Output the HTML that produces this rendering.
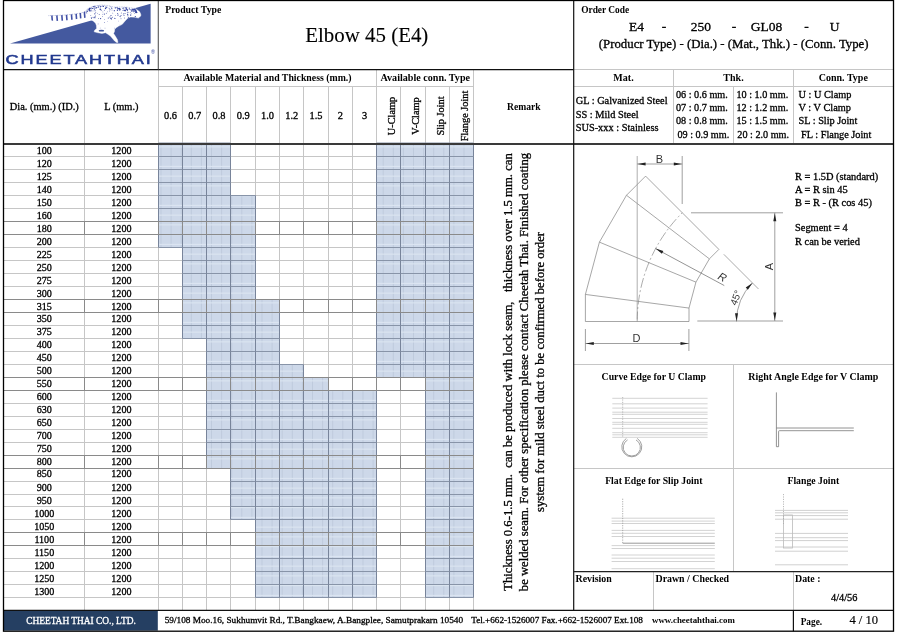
<!DOCTYPE html>
<html><head><meta charset="utf-8"><title>Elbow 45 (E4)</title>
<style>html,body{margin:0;padding:0;background:#fff;width:900px;height:632px;overflow:hidden}</style>
</head><body>
<svg width="900" height="632" viewBox="0 0 900 632" style="position:absolute;left:0;top:0"><rect width="900" height="632" fill="#fff"/><rect x="158.5" y="143.0" width="72.0" height="13.5" fill="#cdd8e9"/><rect x="376.5" y="143.0" width="97.0" height="13.5" fill="#cdd8e9"/><rect x="158.5" y="156.5" width="72.0" height="13.0" fill="#cdd8e9"/><rect x="376.5" y="156.5" width="97.0" height="13.0" fill="#cdd8e9"/><rect x="158.5" y="169.5" width="72.0" height="13.0" fill="#cdd8e9"/><rect x="376.5" y="169.5" width="97.0" height="13.0" fill="#cdd8e9"/><rect x="158.5" y="182.5" width="72.0" height="13.0" fill="#cdd8e9"/><rect x="376.5" y="182.5" width="97.0" height="13.0" fill="#cdd8e9"/><rect x="158.5" y="195.5" width="97.0" height="13.0" fill="#cdd8e9"/><rect x="376.5" y="195.5" width="97.0" height="13.0" fill="#cdd8e9"/><rect x="158.5" y="208.5" width="97.0" height="13.0" fill="#cdd8e9"/><rect x="376.5" y="208.5" width="97.0" height="13.0" fill="#cdd8e9"/><rect x="158.5" y="221.5" width="97.0" height="13.0" fill="#cdd8e9"/><rect x="376.5" y="221.5" width="97.0" height="13.0" fill="#cdd8e9"/><rect x="158.5" y="234.5" width="97.0" height="13.0" fill="#cdd8e9"/><rect x="376.5" y="234.5" width="97.0" height="13.0" fill="#cdd8e9"/><rect x="182.5" y="247.5" width="73.0" height="13.0" fill="#cdd8e9"/><rect x="376.5" y="247.5" width="97.0" height="13.0" fill="#cdd8e9"/><rect x="182.5" y="260.5" width="73.0" height="13.0" fill="#cdd8e9"/><rect x="376.5" y="260.5" width="97.0" height="13.0" fill="#cdd8e9"/><rect x="182.5" y="273.5" width="73.0" height="13.0" fill="#cdd8e9"/><rect x="376.5" y="273.5" width="97.0" height="13.0" fill="#cdd8e9"/><rect x="182.5" y="286.5" width="73.0" height="13.0" fill="#cdd8e9"/><rect x="376.5" y="286.5" width="97.0" height="13.0" fill="#cdd8e9"/><rect x="182.5" y="299.5" width="97.0" height="13.0" fill="#cdd8e9"/><rect x="376.5" y="299.5" width="97.0" height="13.0" fill="#cdd8e9"/><rect x="182.5" y="312.5" width="97.0" height="13.0" fill="#cdd8e9"/><rect x="376.5" y="312.5" width="97.0" height="13.0" fill="#cdd8e9"/><rect x="182.5" y="325.5" width="97.0" height="13.0" fill="#cdd8e9"/><rect x="376.5" y="325.5" width="97.0" height="13.0" fill="#cdd8e9"/><rect x="206.5" y="338.5" width="73.0" height="13.0" fill="#cdd8e9"/><rect x="376.5" y="338.5" width="97.0" height="13.0" fill="#cdd8e9"/><rect x="206.5" y="351.5" width="73.0" height="13.0" fill="#cdd8e9"/><rect x="376.5" y="351.5" width="97.0" height="13.0" fill="#cdd8e9"/><rect x="206.5" y="364.5" width="97.0" height="13.0" fill="#cdd8e9"/><rect x="376.5" y="364.5" width="97.0" height="13.0" fill="#cdd8e9"/><rect x="206.5" y="377.5" width="122.0" height="13.0" fill="#cdd8e9"/><rect x="425.5" y="377.5" width="48.0" height="13.0" fill="#cdd8e9"/><rect x="206.5" y="390.5" width="170.0" height="13.0" fill="#cdd8e9"/><rect x="425.5" y="390.5" width="48.0" height="13.0" fill="#cdd8e9"/><rect x="206.5" y="403.5" width="170.0" height="13.0" fill="#cdd8e9"/><rect x="425.5" y="403.5" width="48.0" height="13.0" fill="#cdd8e9"/><rect x="206.5" y="416.5" width="170.0" height="13.0" fill="#cdd8e9"/><rect x="425.5" y="416.5" width="48.0" height="13.0" fill="#cdd8e9"/><rect x="206.5" y="429.5" width="170.0" height="13.0" fill="#cdd8e9"/><rect x="425.5" y="429.5" width="48.0" height="13.0" fill="#cdd8e9"/><rect x="206.5" y="442.5" width="170.0" height="13.0" fill="#cdd8e9"/><rect x="425.5" y="442.5" width="48.0" height="13.0" fill="#cdd8e9"/><rect x="206.5" y="455.5" width="170.0" height="13.0" fill="#cdd8e9"/><rect x="425.5" y="455.5" width="48.0" height="13.0" fill="#cdd8e9"/><rect x="230.5" y="468.5" width="146.0" height="13.0" fill="#cdd8e9"/><rect x="425.5" y="468.5" width="48.0" height="13.0" fill="#cdd8e9"/><rect x="230.5" y="481.5" width="146.0" height="13.0" fill="#cdd8e9"/><rect x="425.5" y="481.5" width="48.0" height="13.0" fill="#cdd8e9"/><rect x="230.5" y="494.5" width="146.0" height="12.0" fill="#cdd8e9"/><rect x="425.5" y="494.5" width="48.0" height="12.0" fill="#cdd8e9"/><rect x="230.5" y="506.5" width="146.0" height="13.0" fill="#cdd8e9"/><rect x="425.5" y="506.5" width="48.0" height="13.0" fill="#cdd8e9"/><rect x="255.5" y="519.5" width="121.0" height="13.0" fill="#cdd8e9"/><rect x="425.5" y="519.5" width="48.0" height="13.0" fill="#cdd8e9"/><rect x="255.5" y="532.5" width="121.0" height="13.0" fill="#cdd8e9"/><rect x="425.5" y="532.5" width="48.0" height="13.0" fill="#cdd8e9"/><rect x="255.5" y="545.5" width="121.0" height="13.0" fill="#cdd8e9"/><rect x="425.5" y="545.5" width="48.0" height="13.0" fill="#cdd8e9"/><rect x="255.5" y="558.5" width="121.0" height="13.0" fill="#cdd8e9"/><rect x="425.5" y="558.5" width="48.0" height="13.0" fill="#cdd8e9"/><rect x="255.5" y="571.5" width="121.0" height="13.0" fill="#cdd8e9"/><rect x="425.5" y="571.5" width="48.0" height="13.0" fill="#cdd8e9"/><rect x="255.5" y="584.5" width="121.0" height="13.0" fill="#cdd8e9"/><rect x="425.5" y="584.5" width="48.0" height="13.0" fill="#cdd8e9"/><clipPath id="blueclip"><rect x="158.5" y="143.0" width="72.0" height="13.5"/><rect x="376.5" y="143.0" width="97.0" height="13.5"/><rect x="158.5" y="156.5" width="72.0" height="13.0"/><rect x="376.5" y="156.5" width="97.0" height="13.0"/><rect x="158.5" y="169.5" width="72.0" height="13.0"/><rect x="376.5" y="169.5" width="97.0" height="13.0"/><rect x="158.5" y="182.5" width="72.0" height="13.0"/><rect x="376.5" y="182.5" width="97.0" height="13.0"/><rect x="158.5" y="195.5" width="97.0" height="13.0"/><rect x="376.5" y="195.5" width="97.0" height="13.0"/><rect x="158.5" y="208.5" width="97.0" height="13.0"/><rect x="376.5" y="208.5" width="97.0" height="13.0"/><rect x="158.5" y="221.5" width="97.0" height="13.0"/><rect x="376.5" y="221.5" width="97.0" height="13.0"/><rect x="158.5" y="234.5" width="97.0" height="13.0"/><rect x="376.5" y="234.5" width="97.0" height="13.0"/><rect x="182.5" y="247.5" width="73.0" height="13.0"/><rect x="376.5" y="247.5" width="97.0" height="13.0"/><rect x="182.5" y="260.5" width="73.0" height="13.0"/><rect x="376.5" y="260.5" width="97.0" height="13.0"/><rect x="182.5" y="273.5" width="73.0" height="13.0"/><rect x="376.5" y="273.5" width="97.0" height="13.0"/><rect x="182.5" y="286.5" width="73.0" height="13.0"/><rect x="376.5" y="286.5" width="97.0" height="13.0"/><rect x="182.5" y="299.5" width="97.0" height="13.0"/><rect x="376.5" y="299.5" width="97.0" height="13.0"/><rect x="182.5" y="312.5" width="97.0" height="13.0"/><rect x="376.5" y="312.5" width="97.0" height="13.0"/><rect x="182.5" y="325.5" width="97.0" height="13.0"/><rect x="376.5" y="325.5" width="97.0" height="13.0"/><rect x="206.5" y="338.5" width="73.0" height="13.0"/><rect x="376.5" y="338.5" width="97.0" height="13.0"/><rect x="206.5" y="351.5" width="73.0" height="13.0"/><rect x="376.5" y="351.5" width="97.0" height="13.0"/><rect x="206.5" y="364.5" width="97.0" height="13.0"/><rect x="376.5" y="364.5" width="97.0" height="13.0"/><rect x="206.5" y="377.5" width="122.0" height="13.0"/><rect x="425.5" y="377.5" width="48.0" height="13.0"/><rect x="206.5" y="390.5" width="170.0" height="13.0"/><rect x="425.5" y="390.5" width="48.0" height="13.0"/><rect x="206.5" y="403.5" width="170.0" height="13.0"/><rect x="425.5" y="403.5" width="48.0" height="13.0"/><rect x="206.5" y="416.5" width="170.0" height="13.0"/><rect x="425.5" y="416.5" width="48.0" height="13.0"/><rect x="206.5" y="429.5" width="170.0" height="13.0"/><rect x="425.5" y="429.5" width="48.0" height="13.0"/><rect x="206.5" y="442.5" width="170.0" height="13.0"/><rect x="425.5" y="442.5" width="48.0" height="13.0"/><rect x="206.5" y="455.5" width="170.0" height="13.0"/><rect x="425.5" y="455.5" width="48.0" height="13.0"/><rect x="230.5" y="468.5" width="146.0" height="13.0"/><rect x="425.5" y="468.5" width="48.0" height="13.0"/><rect x="230.5" y="481.5" width="146.0" height="13.0"/><rect x="425.5" y="481.5" width="48.0" height="13.0"/><rect x="230.5" y="494.5" width="146.0" height="12.0"/><rect x="425.5" y="494.5" width="48.0" height="12.0"/><rect x="230.5" y="506.5" width="146.0" height="13.0"/><rect x="425.5" y="506.5" width="48.0" height="13.0"/><rect x="255.5" y="519.5" width="121.0" height="13.0"/><rect x="425.5" y="519.5" width="48.0" height="13.0"/><rect x="255.5" y="532.5" width="121.0" height="13.0"/><rect x="425.5" y="532.5" width="48.0" height="13.0"/><rect x="255.5" y="545.5" width="121.0" height="13.0"/><rect x="425.5" y="545.5" width="48.0" height="13.0"/><rect x="255.5" y="558.5" width="121.0" height="13.0"/><rect x="425.5" y="558.5" width="48.0" height="13.0"/><rect x="255.5" y="571.5" width="121.0" height="13.0"/><rect x="425.5" y="571.5" width="48.0" height="13.0"/><rect x="255.5" y="584.5" width="121.0" height="13.0"/><rect x="425.5" y="584.5" width="48.0" height="13.0"/></clipPath><g clip-path="url(#blueclip)"><path d="M150.9 143V598M161.0 143V598M171.1 143V598M181.2 143V598M191.3 143V598M201.4 143V598M211.5 143V598M221.6 143V598M231.7 143V598M241.8 143V598M251.9 143V598M262.0 143V598M272.1 143V598M282.2 143V598M292.3 143V598M302.4 143V598M312.5 143V598M322.6 143V598M332.7 143V598M342.8 143V598M352.9 143V598M363.0 143V598M373.1 143V598M383.2 143V598M393.3 143V598M403.4 143V598M413.5 143V598M423.6 143V598M433.7 143V598M443.8 143V598M453.9 143V598M464.0 143V598" stroke="#bfcbdd" stroke-width="1" fill="none"/><path d="M158 137.15H474M158 146.90H474M158 156.65H474M158 166.40H474M158 176.15H474M158 185.90H474M158 195.65H474M158 205.40H474M158 215.15H474M158 224.90H474M158 234.65H474M158 244.40H474M158 254.15H474M158 263.90H474M158 273.65H474M158 283.40H474M158 293.15H474M158 302.90H474M158 312.65H474M158 322.40H474M158 332.15H474M158 341.90H474M158 351.65H474M158 361.40H474M158 371.15H474M158 380.90H474M158 390.65H474M158 400.40H474M158 410.15H474M158 419.90H474M158 429.65H474M158 439.40H474M158 449.15H474M158 458.90H474M158 468.65H474M158 478.40H474M158 488.15H474M158 497.90H474M158 507.65H474M158 517.40H474M158 527.15H474M158 536.90H474M158 546.65H474M158 556.40H474M158 566.15H474M158 575.90H474M158 585.65H474M158 595.40H474" stroke="#dde6f2" stroke-width="1" fill="none"/></g><path d="M3.5 156.5H473.5M3.5 169.5H473.5M3.5 182.5H473.5M3.5 195.5H473.5M3.5 208.5H473.5M3.5 221.5H473.5M3.5 234.5H473.5M3.5 247.5H473.5M3.5 260.5H473.5M3.5 273.5H473.5M3.5 286.5H473.5M3.5 299.5H473.5M3.5 312.5H473.5M3.5 325.5H473.5M3.5 338.5H473.5M3.5 351.5H473.5M3.5 364.5H473.5M3.5 377.5H473.5M3.5 390.5H473.5M3.5 403.5H473.5M3.5 416.5H473.5M3.5 429.5H473.5M3.5 442.5H473.5M3.5 455.5H473.5M3.5 468.5H473.5M3.5 481.5H473.5M3.5 494.5H473.5M3.5 506.5H473.5M3.5 519.5H473.5M3.5 532.5H473.5M3.5 545.5H473.5M3.5 558.5H473.5M3.5 571.5H473.5M3.5 584.5H473.5M3.5 597.5H473.5M84.5 69.6V610.4M158.5 69.6V610.4M182.5 86.4V610.4M206.5 86.4V610.4M230.5 86.4V610.4M255.5 86.4V610.4M279.5 86.4V610.4M303.5 86.4V610.4M328.5 86.4V610.4M352.5 86.4V610.4M376.5 69.6V610.4M400.5 86.4V610.4M425.5 86.4V610.4M449.5 86.4V610.4M473.5 69.6V610.4M158.5 86.5H473.5M573.7 69.5H893.5M573.7 86.5H893.5M673.5 69.6V143M733.5 86.5V143M793.5 69.6V143M573.7 364.5H893.5M573.7 468.5H893.5M733.5 364.5V571.7M653.5 571.7V610.4M793.5 571.7V610.4" stroke="#c6c6c6" stroke-width="1" fill="none"/><path d="M158.5 143.0H230.5M158.5 156.5H230.5M376.5 143.0H473.5M376.5 156.5H473.5M158.5 156.5H230.5M158.5 169.5H230.5M376.5 156.5H473.5M376.5 169.5H473.5M158.5 169.5H230.5M158.5 182.5H230.5M376.5 169.5H473.5M376.5 182.5H473.5M158.5 182.5H230.5M158.5 195.5H230.5M376.5 182.5H473.5M376.5 195.5H473.5M158.5 195.5H255.5M158.5 208.5H255.5M376.5 195.5H473.5M376.5 208.5H473.5M158.5 208.5H255.5M158.5 221.5H255.5M376.5 208.5H473.5M376.5 221.5H473.5M158.5 221.5H255.5M158.5 234.5H255.5M376.5 221.5H473.5M376.5 234.5H473.5M158.5 234.5H255.5M158.5 247.5H255.5M376.5 234.5H473.5M376.5 247.5H473.5M182.5 247.5H255.5M182.5 260.5H255.5M376.5 247.5H473.5M376.5 260.5H473.5M182.5 260.5H255.5M182.5 273.5H255.5M376.5 260.5H473.5M376.5 273.5H473.5M182.5 273.5H255.5M182.5 286.5H255.5M376.5 273.5H473.5M376.5 286.5H473.5M182.5 286.5H255.5M182.5 299.5H255.5M376.5 286.5H473.5M376.5 299.5H473.5M182.5 299.5H279.5M182.5 312.5H279.5M376.5 299.5H473.5M376.5 312.5H473.5M182.5 312.5H279.5M182.5 325.5H279.5M376.5 312.5H473.5M376.5 325.5H473.5M182.5 325.5H279.5M182.5 338.5H279.5M376.5 325.5H473.5M376.5 338.5H473.5M206.5 338.5H279.5M206.5 351.5H279.5M376.5 338.5H473.5M376.5 351.5H473.5M206.5 351.5H279.5M206.5 364.5H279.5M376.5 351.5H473.5M376.5 364.5H473.5M206.5 364.5H303.5M206.5 377.5H303.5M376.5 364.5H473.5M376.5 377.5H473.5M206.5 377.5H328.5M206.5 390.5H328.5M425.5 377.5H473.5M425.5 390.5H473.5M206.5 390.5H376.5M206.5 403.5H376.5M425.5 390.5H473.5M425.5 403.5H473.5M206.5 403.5H376.5M206.5 416.5H376.5M425.5 403.5H473.5M425.5 416.5H473.5M206.5 416.5H376.5M206.5 429.5H376.5M425.5 416.5H473.5M425.5 429.5H473.5M206.5 429.5H376.5M206.5 442.5H376.5M425.5 429.5H473.5M425.5 442.5H473.5M206.5 442.5H376.5M206.5 455.5H376.5M425.5 442.5H473.5M425.5 455.5H473.5M206.5 455.5H376.5M206.5 468.5H376.5M425.5 455.5H473.5M425.5 468.5H473.5M230.5 468.5H376.5M230.5 481.5H376.5M425.5 468.5H473.5M425.5 481.5H473.5M230.5 481.5H376.5M230.5 494.5H376.5M425.5 481.5H473.5M425.5 494.5H473.5M230.5 494.5H376.5M230.5 506.5H376.5M425.5 494.5H473.5M425.5 506.5H473.5M230.5 506.5H376.5M230.5 519.5H376.5M425.5 506.5H473.5M425.5 519.5H473.5M255.5 519.5H376.5M255.5 532.5H376.5M425.5 519.5H473.5M425.5 532.5H473.5M255.5 532.5H376.5M255.5 545.5H376.5M425.5 532.5H473.5M425.5 545.5H473.5M255.5 545.5H376.5M255.5 558.5H376.5M425.5 545.5H473.5M425.5 558.5H473.5M255.5 558.5H376.5M255.5 571.5H376.5M425.5 558.5H473.5M425.5 571.5H473.5M255.5 571.5H376.5M255.5 584.5H376.5M425.5 571.5H473.5M425.5 584.5H473.5M255.5 584.5H376.5M255.5 597.5H376.5M425.5 584.5H473.5M425.5 597.5H473.5" stroke="#8894a8" stroke-width="1" fill="none"/><path d="M158.5 143.0V156.5M182.5 143.0V156.5M206.5 143.0V156.5M230.5 143.0V156.5M376.5 143.0V156.5M400.5 143.0V156.5M425.5 143.0V156.5M449.5 143.0V156.5M473.5 143.0V156.5M158.5 156.5V169.5M182.5 156.5V169.5M206.5 156.5V169.5M230.5 156.5V169.5M376.5 156.5V169.5M400.5 156.5V169.5M425.5 156.5V169.5M449.5 156.5V169.5M473.5 156.5V169.5M158.5 169.5V182.5M182.5 169.5V182.5M206.5 169.5V182.5M230.5 169.5V182.5M376.5 169.5V182.5M400.5 169.5V182.5M425.5 169.5V182.5M449.5 169.5V182.5M473.5 169.5V182.5M158.5 182.5V195.5M182.5 182.5V195.5M206.5 182.5V195.5M230.5 182.5V195.5M376.5 182.5V195.5M400.5 182.5V195.5M425.5 182.5V195.5M449.5 182.5V195.5M473.5 182.5V195.5M158.5 195.5V208.5M182.5 195.5V208.5M206.5 195.5V208.5M230.5 195.5V208.5M255.5 195.5V208.5M376.5 195.5V208.5M400.5 195.5V208.5M425.5 195.5V208.5M449.5 195.5V208.5M473.5 195.5V208.5M158.5 208.5V221.5M182.5 208.5V221.5M206.5 208.5V221.5M230.5 208.5V221.5M255.5 208.5V221.5M376.5 208.5V221.5M400.5 208.5V221.5M425.5 208.5V221.5M449.5 208.5V221.5M473.5 208.5V221.5M158.5 221.5V234.5M182.5 221.5V234.5M206.5 221.5V234.5M230.5 221.5V234.5M255.5 221.5V234.5M376.5 221.5V234.5M400.5 221.5V234.5M425.5 221.5V234.5M449.5 221.5V234.5M473.5 221.5V234.5M158.5 234.5V247.5M182.5 234.5V247.5M206.5 234.5V247.5M230.5 234.5V247.5M255.5 234.5V247.5M376.5 234.5V247.5M400.5 234.5V247.5M425.5 234.5V247.5M449.5 234.5V247.5M473.5 234.5V247.5M182.5 247.5V260.5M206.5 247.5V260.5M230.5 247.5V260.5M255.5 247.5V260.5M376.5 247.5V260.5M400.5 247.5V260.5M425.5 247.5V260.5M449.5 247.5V260.5M473.5 247.5V260.5M182.5 260.5V273.5M206.5 260.5V273.5M230.5 260.5V273.5M255.5 260.5V273.5M376.5 260.5V273.5M400.5 260.5V273.5M425.5 260.5V273.5M449.5 260.5V273.5M473.5 260.5V273.5M182.5 273.5V286.5M206.5 273.5V286.5M230.5 273.5V286.5M255.5 273.5V286.5M376.5 273.5V286.5M400.5 273.5V286.5M425.5 273.5V286.5M449.5 273.5V286.5M473.5 273.5V286.5M182.5 286.5V299.5M206.5 286.5V299.5M230.5 286.5V299.5M255.5 286.5V299.5M376.5 286.5V299.5M400.5 286.5V299.5M425.5 286.5V299.5M449.5 286.5V299.5M473.5 286.5V299.5M182.5 299.5V312.5M206.5 299.5V312.5M230.5 299.5V312.5M255.5 299.5V312.5M279.5 299.5V312.5M376.5 299.5V312.5M400.5 299.5V312.5M425.5 299.5V312.5M449.5 299.5V312.5M473.5 299.5V312.5M182.5 312.5V325.5M206.5 312.5V325.5M230.5 312.5V325.5M255.5 312.5V325.5M279.5 312.5V325.5M376.5 312.5V325.5M400.5 312.5V325.5M425.5 312.5V325.5M449.5 312.5V325.5M473.5 312.5V325.5M182.5 325.5V338.5M206.5 325.5V338.5M230.5 325.5V338.5M255.5 325.5V338.5M279.5 325.5V338.5M376.5 325.5V338.5M400.5 325.5V338.5M425.5 325.5V338.5M449.5 325.5V338.5M473.5 325.5V338.5M206.5 338.5V351.5M230.5 338.5V351.5M255.5 338.5V351.5M279.5 338.5V351.5M376.5 338.5V351.5M400.5 338.5V351.5M425.5 338.5V351.5M449.5 338.5V351.5M473.5 338.5V351.5M206.5 351.5V364.5M230.5 351.5V364.5M255.5 351.5V364.5M279.5 351.5V364.5M376.5 351.5V364.5M400.5 351.5V364.5M425.5 351.5V364.5M449.5 351.5V364.5M473.5 351.5V364.5M206.5 364.5V377.5M230.5 364.5V377.5M255.5 364.5V377.5M279.5 364.5V377.5M303.5 364.5V377.5M376.5 364.5V377.5M400.5 364.5V377.5M425.5 364.5V377.5M449.5 364.5V377.5M473.5 364.5V377.5M206.5 377.5V390.5M230.5 377.5V390.5M255.5 377.5V390.5M279.5 377.5V390.5M303.5 377.5V390.5M328.5 377.5V390.5M425.5 377.5V390.5M449.5 377.5V390.5M473.5 377.5V390.5M206.5 390.5V403.5M230.5 390.5V403.5M255.5 390.5V403.5M279.5 390.5V403.5M303.5 390.5V403.5M328.5 390.5V403.5M352.5 390.5V403.5M376.5 390.5V403.5M425.5 390.5V403.5M449.5 390.5V403.5M473.5 390.5V403.5M206.5 403.5V416.5M230.5 403.5V416.5M255.5 403.5V416.5M279.5 403.5V416.5M303.5 403.5V416.5M328.5 403.5V416.5M352.5 403.5V416.5M376.5 403.5V416.5M425.5 403.5V416.5M449.5 403.5V416.5M473.5 403.5V416.5M206.5 416.5V429.5M230.5 416.5V429.5M255.5 416.5V429.5M279.5 416.5V429.5M303.5 416.5V429.5M328.5 416.5V429.5M352.5 416.5V429.5M376.5 416.5V429.5M425.5 416.5V429.5M449.5 416.5V429.5M473.5 416.5V429.5M206.5 429.5V442.5M230.5 429.5V442.5M255.5 429.5V442.5M279.5 429.5V442.5M303.5 429.5V442.5M328.5 429.5V442.5M352.5 429.5V442.5M376.5 429.5V442.5M425.5 429.5V442.5M449.5 429.5V442.5M473.5 429.5V442.5M206.5 442.5V455.5M230.5 442.5V455.5M255.5 442.5V455.5M279.5 442.5V455.5M303.5 442.5V455.5M328.5 442.5V455.5M352.5 442.5V455.5M376.5 442.5V455.5M425.5 442.5V455.5M449.5 442.5V455.5M473.5 442.5V455.5M206.5 455.5V468.5M230.5 455.5V468.5M255.5 455.5V468.5M279.5 455.5V468.5M303.5 455.5V468.5M328.5 455.5V468.5M352.5 455.5V468.5M376.5 455.5V468.5M425.5 455.5V468.5M449.5 455.5V468.5M473.5 455.5V468.5M230.5 468.5V481.5M255.5 468.5V481.5M279.5 468.5V481.5M303.5 468.5V481.5M328.5 468.5V481.5M352.5 468.5V481.5M376.5 468.5V481.5M425.5 468.5V481.5M449.5 468.5V481.5M473.5 468.5V481.5M230.5 481.5V494.5M255.5 481.5V494.5M279.5 481.5V494.5M303.5 481.5V494.5M328.5 481.5V494.5M352.5 481.5V494.5M376.5 481.5V494.5M425.5 481.5V494.5M449.5 481.5V494.5M473.5 481.5V494.5M230.5 494.5V506.5M255.5 494.5V506.5M279.5 494.5V506.5M303.5 494.5V506.5M328.5 494.5V506.5M352.5 494.5V506.5M376.5 494.5V506.5M425.5 494.5V506.5M449.5 494.5V506.5M473.5 494.5V506.5M230.5 506.5V519.5M255.5 506.5V519.5M279.5 506.5V519.5M303.5 506.5V519.5M328.5 506.5V519.5M352.5 506.5V519.5M376.5 506.5V519.5M425.5 506.5V519.5M449.5 506.5V519.5M473.5 506.5V519.5M255.5 519.5V532.5M279.5 519.5V532.5M303.5 519.5V532.5M328.5 519.5V532.5M352.5 519.5V532.5M376.5 519.5V532.5M425.5 519.5V532.5M449.5 519.5V532.5M473.5 519.5V532.5M255.5 532.5V545.5M279.5 532.5V545.5M303.5 532.5V545.5M328.5 532.5V545.5M352.5 532.5V545.5M376.5 532.5V545.5M425.5 532.5V545.5M449.5 532.5V545.5M473.5 532.5V545.5M255.5 545.5V558.5M279.5 545.5V558.5M303.5 545.5V558.5M328.5 545.5V558.5M352.5 545.5V558.5M376.5 545.5V558.5M425.5 545.5V558.5M449.5 545.5V558.5M473.5 545.5V558.5M255.5 558.5V571.5M279.5 558.5V571.5M303.5 558.5V571.5M328.5 558.5V571.5M352.5 558.5V571.5M376.5 558.5V571.5M425.5 558.5V571.5M449.5 558.5V571.5M473.5 558.5V571.5M255.5 571.5V584.5M279.5 571.5V584.5M303.5 571.5V584.5M328.5 571.5V584.5M352.5 571.5V584.5M376.5 571.5V584.5M425.5 571.5V584.5M449.5 571.5V584.5M473.5 571.5V584.5M255.5 584.5V597.5M279.5 584.5V597.5M303.5 584.5V597.5M328.5 584.5V597.5M352.5 584.5V597.5M376.5 584.5V597.5M425.5 584.5V597.5M449.5 584.5V597.5M473.5 584.5V597.5" stroke="#78849a" stroke-width="1" fill="none"/><path d="M3.5 221.5H473.5M3.5 234.5H473.5M3.5 299.5H473.5M3.5 312.5H473.5M3.5 377.5H473.5M3.5 390.5H473.5M3.5 455.5H473.5M3.5 468.5H473.5M3.5 532.5H473.5M3.5 545.5H473.5" stroke="#8a8a8a" stroke-width="1" fill="none"/><path d="M84.5 221.5V234.5M158.5 221.5V234.5M182.5 221.5V234.5M206.5 221.5V234.5M230.5 221.5V234.5M255.5 221.5V234.5M279.5 221.5V234.5M303.5 221.5V234.5M328.5 221.5V234.5M352.5 221.5V234.5M376.5 221.5V234.5M400.5 221.5V234.5M425.5 221.5V234.5M449.5 221.5V234.5M473.5 221.5V234.5M84.5 299.5V312.5M158.5 299.5V312.5M182.5 299.5V312.5M206.5 299.5V312.5M230.5 299.5V312.5M255.5 299.5V312.5M279.5 299.5V312.5M303.5 299.5V312.5M328.5 299.5V312.5M352.5 299.5V312.5M376.5 299.5V312.5M400.5 299.5V312.5M425.5 299.5V312.5M449.5 299.5V312.5M473.5 299.5V312.5M84.5 377.5V390.5M158.5 377.5V390.5M182.5 377.5V390.5M206.5 377.5V390.5M230.5 377.5V390.5M255.5 377.5V390.5M279.5 377.5V390.5M303.5 377.5V390.5M328.5 377.5V390.5M352.5 377.5V390.5M376.5 377.5V390.5M400.5 377.5V390.5M425.5 377.5V390.5M449.5 377.5V390.5M473.5 377.5V390.5M84.5 455.5V468.5M158.5 455.5V468.5M182.5 455.5V468.5M206.5 455.5V468.5M230.5 455.5V468.5M255.5 455.5V468.5M279.5 455.5V468.5M303.5 455.5V468.5M328.5 455.5V468.5M352.5 455.5V468.5M376.5 455.5V468.5M400.5 455.5V468.5M425.5 455.5V468.5M449.5 455.5V468.5M473.5 455.5V468.5M84.5 532.5V545.5M158.5 532.5V545.5M182.5 532.5V545.5M206.5 532.5V545.5M230.5 532.5V545.5M255.5 532.5V545.5M279.5 532.5V545.5M303.5 532.5V545.5M328.5 532.5V545.5M352.5 532.5V545.5M376.5 532.5V545.5M400.5 532.5V545.5M425.5 532.5V545.5M449.5 532.5V545.5M473.5 532.5V545.5" stroke="#8a8a8a" stroke-width="1" fill="none"/><path d="M3.5 69.6H573.7" stroke="#111" stroke-width="1.4"/><path d="M3.5 144H893.5" stroke="#3a3a3a" stroke-width="1.8"/><path d="M158.3 0V69.6" stroke="#555" stroke-width="1.1"/><path d="M573.7 0V610.4" stroke="#111" stroke-width="1.2"/><path d="M573.7 571.7H893.5" stroke="#222" stroke-width="1.3"/><path d="M3.5 610.4H893.5" stroke="#111" stroke-width="1.4"/><path d="M793.4 610.4V631.2" stroke="#111" stroke-width="1.2"/><rect x="3.8" y="611.0" width="154" height="19.60" fill="#253f62"/><rect x="3.5" y="0.5" width="890.0" height="630.7" fill="none" stroke="#000" stroke-width="1.3"/><g style="font-family:'Liberation Serif','Times New Roman',serif"><text x="165.20" y="12.90" font-size="9.75" font-weight="bold" text-anchor="start" fill="#000" >Product Type</text><text x="366.80" y="41.70" font-size="20.9" font-weight="normal" text-anchor="middle" fill="#000" stroke="#000" stroke-width="0.12">Elbow 45 (E4)</text><text x="581.20" y="12.80" font-size="9.4" font-weight="bold" text-anchor="start" fill="#000" >Order Code</text><text x="636.60" y="31.10" font-size="13.5" font-weight="normal" text-anchor="middle" fill="#000" stroke="#000" stroke-width="0.3">E4</text><text x="664.00" y="31.10" font-size="13.5" font-weight="normal" text-anchor="middle" fill="#000" stroke="#000" stroke-width="0.3">-</text><text x="700.90" y="31.10" font-size="13.5" font-weight="normal" text-anchor="middle" fill="#000" stroke="#000" stroke-width="0.3">250</text><text x="734.00" y="31.10" font-size="13.5" font-weight="normal" text-anchor="middle" fill="#000" stroke="#000" stroke-width="0.3">-</text><text x="766.50" y="31.10" font-size="13.5" font-weight="normal" text-anchor="middle" fill="#000" stroke="#000" stroke-width="0.3">GL08</text><text x="806.50" y="31.10" font-size="13.5" font-weight="normal" text-anchor="middle" fill="#000" stroke="#000" stroke-width="0.3">-</text><text x="834.50" y="31.10" font-size="13.5" font-weight="normal" text-anchor="middle" fill="#000" stroke="#000" stroke-width="0.3">U</text><text x="733.70" y="48.00" font-size="12.8" font-weight="normal" text-anchor="middle" fill="#000" stroke="#000" stroke-width="0.3">(Producr Type) - (Dia.) - (Mat., Thk.) - (Conn. Type)</text><text x="44.30" y="110.40" font-size="10.4" font-weight="normal" text-anchor="middle" fill="#000" stroke="#000" stroke-width="0.3">Dia. (mm.) (ID.)</text><text x="121.40" y="110.40" font-size="10.4" font-weight="normal" text-anchor="middle" fill="#000" stroke="#000" stroke-width="0.3">L (mm.)</text><text x="267.51" y="81.10" font-size="9.8" font-weight="bold" text-anchor="middle" fill="#000" >Available Material and Thickness (mm.)</text><text x="425.27" y="81.10" font-size="10.1" font-weight="bold" text-anchor="middle" fill="#000" >Available conn. Type</text><text x="523.75" y="109.80" font-size="9.6" font-weight="bold" text-anchor="middle" fill="#000" >Remark</text><text x="170.44" y="119.20" font-size="10.4" font-weight="normal" text-anchor="middle" fill="#000" stroke="#000" stroke-width="0.3">0.6</text><text x="194.71" y="119.20" font-size="10.4" font-weight="normal" text-anchor="middle" fill="#000" stroke="#000" stroke-width="0.3">0.7</text><text x="218.98" y="119.20" font-size="10.4" font-weight="normal" text-anchor="middle" fill="#000" stroke="#000" stroke-width="0.3">0.8</text><text x="243.25" y="119.20" font-size="10.4" font-weight="normal" text-anchor="middle" fill="#000" stroke="#000" stroke-width="0.3">0.9</text><text x="267.51" y="119.20" font-size="10.4" font-weight="normal" text-anchor="middle" fill="#000" stroke="#000" stroke-width="0.3">1.0</text><text x="291.78" y="119.20" font-size="10.4" font-weight="normal" text-anchor="middle" fill="#000" stroke="#000" stroke-width="0.3">1.2</text><text x="316.06" y="119.20" font-size="10.4" font-weight="normal" text-anchor="middle" fill="#000" stroke="#000" stroke-width="0.3">1.5</text><text x="340.33" y="119.20" font-size="10.4" font-weight="normal" text-anchor="middle" fill="#000" stroke="#000" stroke-width="0.3">2</text><text x="364.60" y="119.20" font-size="10.4" font-weight="normal" text-anchor="middle" fill="#000" stroke="#000" stroke-width="0.3">3</text><text transform="translate(395.17 116.0) rotate(-90)" font-size="10.3" text-anchor="middle" stroke="#000" stroke-width="0.3">U-Clamp</text><text transform="translate(419.44 116.0) rotate(-90)" font-size="10.3" text-anchor="middle" stroke="#000" stroke-width="0.3">V-Clamp</text><text transform="translate(443.70 116.0) rotate(-90)" font-size="10.3" text-anchor="middle" stroke="#000" stroke-width="0.3">Slip Joint</text><text transform="translate(467.98 116.0) rotate(-90)" font-size="10.3" text-anchor="middle" stroke="#000" stroke-width="0.3">Flange Joint</text><text x="623.50" y="80.80" font-size="10" font-weight="bold" text-anchor="middle" fill="#000" >Mat.</text><text x="733.50" y="80.80" font-size="10" font-weight="bold" text-anchor="middle" fill="#000" >Thk.</text><text x="843.30" y="80.80" font-size="10" font-weight="bold" text-anchor="middle" fill="#000" >Conn. Type</text><text x="575.70" y="104.30" font-size="10.35" font-weight="normal" text-anchor="start" fill="#000" stroke="#000" stroke-width="0.3">GL : Galvanized Steel</text><text x="575.70" y="117.80" font-size="10.35" font-weight="normal" text-anchor="start" fill="#000" stroke="#000" stroke-width="0.3">SS : Mild Steel</text><text x="575.70" y="131.30" font-size="10.35" font-weight="normal" text-anchor="start" fill="#000" stroke="#000" stroke-width="0.3">SUS-xxx : Stainless</text><text x="676.00" y="97.50" font-size="10.2" font-weight="normal" text-anchor="start" fill="#000" stroke="#000" stroke-width="0.3">06 : 0.6 mm.</text><text x="676.00" y="110.95" font-size="10.2" font-weight="normal" text-anchor="start" fill="#000" stroke="#000" stroke-width="0.3">07 : 0.7 mm.</text><text x="676.00" y="124.40" font-size="10.2" font-weight="normal" text-anchor="start" fill="#000" stroke="#000" stroke-width="0.3">08 : 0.8 mm.</text><text x="677.40" y="137.85" font-size="10.2" font-weight="normal" text-anchor="start" fill="#000" stroke="#000" stroke-width="0.3">09 : 0.9 mm.</text><text x="736.40" y="97.50" font-size="10.2" font-weight="normal" text-anchor="start" fill="#000" stroke="#000" stroke-width="0.3">10 : 1.0 mm.</text><text x="736.40" y="110.95" font-size="10.2" font-weight="normal" text-anchor="start" fill="#000" stroke="#000" stroke-width="0.3">12 : 1.2 mm.</text><text x="736.40" y="124.40" font-size="10.2" font-weight="normal" text-anchor="start" fill="#000" stroke="#000" stroke-width="0.3">15 : 1.5 mm.</text><text x="737.30" y="137.85" font-size="10.2" font-weight="normal" text-anchor="start" fill="#000" stroke="#000" stroke-width="0.3">20 : 2.0 mm.</text><text x="798.50" y="97.50" font-size="10.3" font-weight="normal" text-anchor="start" fill="#000" stroke="#000" stroke-width="0.3">U : U Clamp</text><text x="798.50" y="110.95" font-size="10.3" font-weight="normal" text-anchor="start" fill="#000" stroke="#000" stroke-width="0.3">V : V Clamp</text><text x="798.50" y="124.40" font-size="10.3" font-weight="normal" text-anchor="start" fill="#000" stroke="#000" stroke-width="0.3">SL : Slip Joint</text><text x="798.50" y="137.85" font-size="10.3" font-weight="normal" text-anchor="start" fill="#000" stroke="#000" stroke-width="0.3">&#160;FL : Flange Joint</text><text x="44.30" y="153.90" font-size="10.1" font-weight="normal" text-anchor="middle" fill="#000" stroke="#000" stroke-width="0.3">100</text><text x="121.40" y="153.90" font-size="10.1" font-weight="normal" text-anchor="middle" fill="#000" stroke="#000" stroke-width="0.3">1200</text><text x="44.30" y="166.90" font-size="10.1" font-weight="normal" text-anchor="middle" fill="#000" stroke="#000" stroke-width="0.3">120</text><text x="121.40" y="166.90" font-size="10.1" font-weight="normal" text-anchor="middle" fill="#000" stroke="#000" stroke-width="0.3">1200</text><text x="44.30" y="179.88" font-size="10.1" font-weight="normal" text-anchor="middle" fill="#000" stroke="#000" stroke-width="0.3">125</text><text x="121.40" y="179.88" font-size="10.1" font-weight="normal" text-anchor="middle" fill="#000" stroke="#000" stroke-width="0.3">1200</text><text x="44.30" y="192.86" font-size="10.1" font-weight="normal" text-anchor="middle" fill="#000" stroke="#000" stroke-width="0.3">140</text><text x="121.40" y="192.86" font-size="10.1" font-weight="normal" text-anchor="middle" fill="#000" stroke="#000" stroke-width="0.3">1200</text><text x="44.30" y="205.83" font-size="10.1" font-weight="normal" text-anchor="middle" fill="#000" stroke="#000" stroke-width="0.3">150</text><text x="121.40" y="205.83" font-size="10.1" font-weight="normal" text-anchor="middle" fill="#000" stroke="#000" stroke-width="0.3">1200</text><text x="44.30" y="218.81" font-size="10.1" font-weight="normal" text-anchor="middle" fill="#000" stroke="#000" stroke-width="0.3">160</text><text x="121.40" y="218.81" font-size="10.1" font-weight="normal" text-anchor="middle" fill="#000" stroke="#000" stroke-width="0.3">1200</text><text x="44.30" y="231.79" font-size="10.1" font-weight="normal" text-anchor="middle" fill="#000" stroke="#000" stroke-width="0.3">180</text><text x="121.40" y="231.79" font-size="10.1" font-weight="normal" text-anchor="middle" fill="#000" stroke="#000" stroke-width="0.3">1200</text><text x="44.30" y="244.77" font-size="10.1" font-weight="normal" text-anchor="middle" fill="#000" stroke="#000" stroke-width="0.3">200</text><text x="121.40" y="244.77" font-size="10.1" font-weight="normal" text-anchor="middle" fill="#000" stroke="#000" stroke-width="0.3">1200</text><text x="44.30" y="257.74" font-size="10.1" font-weight="normal" text-anchor="middle" fill="#000" stroke="#000" stroke-width="0.3">225</text><text x="121.40" y="257.74" font-size="10.1" font-weight="normal" text-anchor="middle" fill="#000" stroke="#000" stroke-width="0.3">1200</text><text x="44.30" y="270.72" font-size="10.1" font-weight="normal" text-anchor="middle" fill="#000" stroke="#000" stroke-width="0.3">250</text><text x="121.40" y="270.72" font-size="10.1" font-weight="normal" text-anchor="middle" fill="#000" stroke="#000" stroke-width="0.3">1200</text><text x="44.30" y="283.70" font-size="10.1" font-weight="normal" text-anchor="middle" fill="#000" stroke="#000" stroke-width="0.3">275</text><text x="121.40" y="283.70" font-size="10.1" font-weight="normal" text-anchor="middle" fill="#000" stroke="#000" stroke-width="0.3">1200</text><text x="44.30" y="296.90" font-size="10.1" font-weight="normal" text-anchor="middle" fill="#000" stroke="#000" stroke-width="0.3">300</text><text x="121.40" y="296.90" font-size="10.1" font-weight="normal" text-anchor="middle" fill="#000" stroke="#000" stroke-width="0.3">1200</text><text x="44.30" y="309.57" font-size="10.1" font-weight="normal" text-anchor="middle" fill="#000" stroke="#000" stroke-width="0.3">315</text><text x="121.40" y="309.57" font-size="10.1" font-weight="normal" text-anchor="middle" fill="#000" stroke="#000" stroke-width="0.3">1200</text><text x="44.30" y="322.25" font-size="10.1" font-weight="normal" text-anchor="middle" fill="#000" stroke="#000" stroke-width="0.3">350</text><text x="121.40" y="322.25" font-size="10.1" font-weight="normal" text-anchor="middle" fill="#000" stroke="#000" stroke-width="0.3">1200</text><text x="44.30" y="334.93" font-size="10.1" font-weight="normal" text-anchor="middle" fill="#000" stroke="#000" stroke-width="0.3">375</text><text x="121.40" y="334.93" font-size="10.1" font-weight="normal" text-anchor="middle" fill="#000" stroke="#000" stroke-width="0.3">1200</text><text x="44.30" y="347.60" font-size="10.1" font-weight="normal" text-anchor="middle" fill="#000" stroke="#000" stroke-width="0.3">400</text><text x="121.40" y="347.60" font-size="10.1" font-weight="normal" text-anchor="middle" fill="#000" stroke="#000" stroke-width="0.3">1200</text><text x="44.30" y="360.60" font-size="10.1" font-weight="normal" text-anchor="middle" fill="#000" stroke="#000" stroke-width="0.3">450</text><text x="121.40" y="360.60" font-size="10.1" font-weight="normal" text-anchor="middle" fill="#000" stroke="#000" stroke-width="0.3">1200</text><text x="44.30" y="373.50" font-size="10.1" font-weight="normal" text-anchor="middle" fill="#000" stroke="#000" stroke-width="0.3">500</text><text x="121.40" y="373.50" font-size="10.1" font-weight="normal" text-anchor="middle" fill="#000" stroke="#000" stroke-width="0.3">1200</text><text x="44.30" y="386.90" font-size="10.1" font-weight="normal" text-anchor="middle" fill="#000" stroke="#000" stroke-width="0.3">550</text><text x="121.40" y="386.90" font-size="10.1" font-weight="normal" text-anchor="middle" fill="#000" stroke="#000" stroke-width="0.3">1200</text><text x="44.30" y="399.80" font-size="10.1" font-weight="normal" text-anchor="middle" fill="#000" stroke="#000" stroke-width="0.3">600</text><text x="121.40" y="399.80" font-size="10.1" font-weight="normal" text-anchor="middle" fill="#000" stroke="#000" stroke-width="0.3">1200</text><text x="44.30" y="412.70" font-size="10.1" font-weight="normal" text-anchor="middle" fill="#000" stroke="#000" stroke-width="0.3">630</text><text x="121.40" y="412.70" font-size="10.1" font-weight="normal" text-anchor="middle" fill="#000" stroke="#000" stroke-width="0.3">1200</text><text x="44.30" y="425.60" font-size="10.1" font-weight="normal" text-anchor="middle" fill="#000" stroke="#000" stroke-width="0.3">650</text><text x="121.40" y="425.60" font-size="10.1" font-weight="normal" text-anchor="middle" fill="#000" stroke="#000" stroke-width="0.3">1200</text><text x="44.30" y="438.60" font-size="10.1" font-weight="normal" text-anchor="middle" fill="#000" stroke="#000" stroke-width="0.3">700</text><text x="121.40" y="438.60" font-size="10.1" font-weight="normal" text-anchor="middle" fill="#000" stroke="#000" stroke-width="0.3">1200</text><text x="44.30" y="451.70" font-size="10.1" font-weight="normal" text-anchor="middle" fill="#000" stroke="#000" stroke-width="0.3">750</text><text x="121.40" y="451.70" font-size="10.1" font-weight="normal" text-anchor="middle" fill="#000" stroke="#000" stroke-width="0.3">1200</text><text x="44.30" y="464.60" font-size="10.1" font-weight="normal" text-anchor="middle" fill="#000" stroke="#000" stroke-width="0.3">800</text><text x="121.40" y="464.60" font-size="10.1" font-weight="normal" text-anchor="middle" fill="#000" stroke="#000" stroke-width="0.3">1200</text><text x="44.30" y="477.40" font-size="10.1" font-weight="normal" text-anchor="middle" fill="#000" stroke="#000" stroke-width="0.3">850</text><text x="121.40" y="477.40" font-size="10.1" font-weight="normal" text-anchor="middle" fill="#000" stroke="#000" stroke-width="0.3">1200</text><text x="44.30" y="490.60" font-size="10.1" font-weight="normal" text-anchor="middle" fill="#000" stroke="#000" stroke-width="0.3">900</text><text x="121.40" y="490.60" font-size="10.1" font-weight="normal" text-anchor="middle" fill="#000" stroke="#000" stroke-width="0.3">1200</text><text x="44.30" y="503.60" font-size="10.1" font-weight="normal" text-anchor="middle" fill="#000" stroke="#000" stroke-width="0.3">950</text><text x="121.40" y="503.60" font-size="10.1" font-weight="normal" text-anchor="middle" fill="#000" stroke="#000" stroke-width="0.3">1200</text><text x="44.30" y="516.70" font-size="10.1" font-weight="normal" text-anchor="middle" fill="#000" stroke="#000" stroke-width="0.3">1000</text><text x="121.40" y="516.70" font-size="10.1" font-weight="normal" text-anchor="middle" fill="#000" stroke="#000" stroke-width="0.3">1200</text><text x="44.30" y="529.80" font-size="10.1" font-weight="normal" text-anchor="middle" fill="#000" stroke="#000" stroke-width="0.3">1050</text><text x="121.40" y="529.80" font-size="10.1" font-weight="normal" text-anchor="middle" fill="#000" stroke="#000" stroke-width="0.3">1200</text><text x="44.30" y="542.70" font-size="10.1" font-weight="normal" text-anchor="middle" fill="#000" stroke="#000" stroke-width="0.3">1100</text><text x="121.40" y="542.70" font-size="10.1" font-weight="normal" text-anchor="middle" fill="#000" stroke="#000" stroke-width="0.3">1200</text><text x="44.30" y="555.80" font-size="10.1" font-weight="normal" text-anchor="middle" fill="#000" stroke="#000" stroke-width="0.3">1150</text><text x="121.40" y="555.80" font-size="10.1" font-weight="normal" text-anchor="middle" fill="#000" stroke="#000" stroke-width="0.3">1200</text><text x="44.30" y="568.85" font-size="10.1" font-weight="normal" text-anchor="middle" fill="#000" stroke="#000" stroke-width="0.3">1200</text><text x="121.40" y="568.85" font-size="10.1" font-weight="normal" text-anchor="middle" fill="#000" stroke="#000" stroke-width="0.3">1200</text><text x="44.30" y="581.90" font-size="10.1" font-weight="normal" text-anchor="middle" fill="#000" stroke="#000" stroke-width="0.3">1250</text><text x="121.40" y="581.90" font-size="10.1" font-weight="normal" text-anchor="middle" fill="#000" stroke="#000" stroke-width="0.3">1200</text><text x="44.30" y="594.90" font-size="10.1" font-weight="normal" text-anchor="middle" fill="#000" stroke="#000" stroke-width="0.3">1300</text><text x="121.40" y="594.90" font-size="10.1" font-weight="normal" text-anchor="middle" fill="#000" stroke="#000" stroke-width="0.3">1200</text><text transform="translate(512.20 372) rotate(-90)" font-size="12.7" text-anchor="middle" stroke="#000" stroke-width="0.3">Thickness 0.6-1.5 mm.&#160; can be produced with lock seam,&#160;&#160; thickness over 1.5 mm. can</text><text transform="translate(527.90 372) rotate(-90)" font-size="12.7" text-anchor="middle" stroke="#000" stroke-width="0.3">be welded seam. For other specification please contact Cheetah Thai. Finished coating</text><text transform="translate(543.60 372) rotate(-90)" font-size="12.7" text-anchor="middle" stroke="#000" stroke-width="0.3">system for mild steel duct to be confirmed before order</text><text x="795.00" y="179.80" font-size="10.4" font-weight="normal" text-anchor="start" fill="#000" stroke="#000" stroke-width="0.3">R = 1.5D (standard)</text><text x="795.00" y="193.00" font-size="10.4" font-weight="normal" text-anchor="start" fill="#000" stroke="#000" stroke-width="0.3">A = R sin 45</text><text x="795.00" y="206.20" font-size="10.4" font-weight="normal" text-anchor="start" fill="#000" stroke="#000" stroke-width="0.3">B = R - (R cos 45)</text><text x="795.00" y="231.20" font-size="10.4" font-weight="normal" text-anchor="start" fill="#000" stroke="#000" stroke-width="0.3">Segment = 4</text><text x="795.00" y="244.60" font-size="10.4" font-weight="normal" text-anchor="start" fill="#000" stroke="#000" stroke-width="0.3">R can be veried</text><text x="653.80" y="380.00" font-size="9.75" font-weight="bold" text-anchor="middle" fill="#000" >Curve Edge for U Clamp</text><text x="813.30" y="380.00" font-size="9.95" font-weight="bold" text-anchor="middle" fill="#000" >Right Angle Edge for V Clamp</text><text x="653.80" y="484.00" font-size="9.75" font-weight="bold" text-anchor="middle" fill="#000" >Flat Edge for Slip Joint</text><text x="813.30" y="484.00" font-size="9.75" font-weight="bold" text-anchor="middle" fill="#000" >Flange Joint</text><text x="575.50" y="581.50" font-size="9.9" font-weight="bold" text-anchor="start" fill="#000" >Revision</text><text x="655.50" y="581.50" font-size="9.9" font-weight="bold" text-anchor="start" fill="#000" >Drawn / Checked</text><text x="795.00" y="581.80" font-size="9.9" font-weight="bold" text-anchor="start" fill="#000" >Date :</text><text x="831.00" y="600.60" font-size="10.3" font-weight="normal" text-anchor="start" fill="#000" stroke="#000" stroke-width="0.3">4/4/56</text><text x="800.70" y="624.50" font-size="9.3" font-weight="bold" text-anchor="start" fill="#000" >Page.</text><text x="849.40" y="624.20" font-size="12.6" font-weight="normal" text-anchor="start" fill="#000" stroke="#000" stroke-width="0.15">4 / 10</text><text x="81.00" y="623.60" font-size="9.4" font-weight="normal" text-anchor="middle" fill="#fff" stroke="#fff" stroke-width="0.3">CHEETAH THAI CO., LTD.</text><text x="164.70" y="623.30" font-size="9.28" font-weight="normal" text-anchor="start" fill="#000" stroke="#000" stroke-width="0.3">59/108 Moo.16, Sukhumvit Rd., T.Bangkaew, A.Bangplee, Samutprakarn 10540</text><text x="471.20" y="623.30" font-size="9.2" font-weight="normal" text-anchor="start" fill="#000" stroke="#000" stroke-width="0.3">Tel.+662-1526007 Fax.+662-1526007 Ext.108</text><text x="652.00" y="623.30" font-size="8.9" font-weight="bold" text-anchor="start" fill="#000" >www.cheetahthai.com</text></g><path d="M585.40 321.50 L585.40 294.43 L599.41 242.14 L626.48 195.26 L645.62 176.12 M689.00 321.50 L689.00 308.07 L695.95 282.13 L709.38 258.87 L718.88 249.38 M585.40 321.50 L689.00 321.50 M585.40 294.43 L689.00 308.07 M599.41 242.14 L695.95 282.13 M626.48 195.26 L709.38 258.87 M645.62 176.12 L718.88 249.38" stroke="#777" stroke-width="0.65" fill="none"/><path d="M637.2 156V319.5" stroke="#999" stroke-width="0.8"/><path d="M637.20 321.50 A153.80 153.80 0 0 1 682.25 212.75" stroke="#888" stroke-width="0.7" fill="none" stroke-dasharray="10 2.5 2 2.5"/><path d="M682.2 156V204M637.2 164H682.2" stroke="#777" stroke-width="0.7" fill="none"/><path d="M691 212.8H783M697.3 321H783M774.8 212.8V321" stroke="#777" stroke-width="0.7" fill="none"/><path d="M585.4 329V351M688.9 329V351M585.4 343.5H688.9" stroke="#777" stroke-width="0.7" fill="none"/><path d="M723.82 254.32L758.47 288.97" stroke="#888" stroke-width="0.7"/><path d="M736.50 321.50 A54.5 54.5 0 0 1 752.46 282.96" stroke="#777" stroke-width="0.7" fill="none"/><path d="M655.58 248.59L724.26 285.56" stroke="#666" stroke-width="0.7"/><path d="M637.60 164.00L645.60 162.50L645.60 165.50ZM681.80 164.00L673.80 165.50L673.80 162.50ZM774.80 213.20L776.30 221.20L773.30 221.20ZM774.80 320.60L773.30 312.60L776.30 312.60ZM585.80 343.50L593.80 342.00L593.80 345.00ZM688.50 343.50L680.50 345.00L680.50 342.00ZM736.50 321.20L735.00 313.20L738.00 313.20ZM752.46 282.96L747.87 289.68L745.75 287.56ZM655.58 248.59L663.34 251.06L661.92 253.70Z" fill="#222"/><g style="font-family:'Liberation Sans',Arial,sans-serif" fill="#333"><text x="659.4" y="162.6" font-size="11" text-anchor="middle">B</text><text x="636.5" y="341.5" font-size="11" text-anchor="middle">D</text><text transform="translate(772.5 266.5) rotate(-90)" font-size="11" text-anchor="middle">A</text><text transform="translate(720 280) rotate(28) skewX(-12)" font-size="11" text-anchor="middle">R</text><text transform="translate(739 299) rotate(-68)" font-size="10" text-anchor="middle">45°</text></g><path d="M612.3 398.3H707.6" stroke="#c8c8c8" stroke-width="0.8"/><path d="M612.3 403.8H707.6" stroke="#c8c8c8" stroke-width="0.8"/><path d="M612.3 408.1H707.6" stroke="#c8c8c8" stroke-width="0.8"/><path d="M612.3 412.2H707.6" stroke="#c8c8c8" stroke-width="0.8"/><path d="M612.3 414.3H707.6" stroke="#c8c8c8" stroke-width="0.8"/><path d="M612.3 418.5H707.6" stroke="#c8c8c8" stroke-width="0.8"/><path d="M612.3 422.3H707.6" stroke="#c8c8c8" stroke-width="0.8"/><path d="M612.3 424.3H707.6" stroke="#c8c8c8" stroke-width="0.8"/><path d="M612.3 428.3H707.6" stroke="#c8c8c8" stroke-width="0.8"/><path d="M612.3 432.7H707.6" stroke="#c8c8c8" stroke-width="0.8"/><path d="M612.3 434.8H707.6" stroke="#c8c8c8" stroke-width="0.8"/><path d="M612.3 437.3H707.6" stroke="#c8c8c8" stroke-width="0.8"/><path d="M622.7 397V437" stroke="#aaa" stroke-width="0.8" stroke-dasharray="1.2 1.2"/><path d="M627.6 439.9 A8.6 8.6 0 1 0 636 439.9" stroke="#888" stroke-width="0.8" fill="none"/><path d="M626.4 438.4 A10 10 0 1 0 637.2 438.4" stroke="#888" stroke-width="0.8" fill="none"/><path d="M776.4 392.4V428M776.4 428V446.7H778.6V431.5Q778.6 430.7 779.4 430.7H853.8M776.4 428Q776.4 428 778 428H853.8" stroke="#777" stroke-width="0.8" fill="none"/><path d="M611.6 518.2H714.8" stroke="#c8c8c8" stroke-width="0.8"/><path d="M611.6 521.1H714.8" stroke="#c8c8c8" stroke-width="0.8"/><path d="M611.6 523.5H714.8" stroke="#c8c8c8" stroke-width="0.8"/><path d="M611.6 530.4H714.8" stroke="#c8c8c8" stroke-width="0.8"/><path d="M611.6 533.3H714.8" stroke="#c8c8c8" stroke-width="0.8"/><path d="M611.6 536.5H714.8" stroke="#c8c8c8" stroke-width="0.8"/><path d="M611.6 545.6H714.8" stroke="#c8c8c8" stroke-width="0.8"/><path d="M611.6 548.5H714.8" stroke="#c8c8c8" stroke-width="0.8"/><path d="M611.6 555H714.8" stroke="#c8c8c8" stroke-width="0.8"/><path d="M611.6 558.2H714.8" stroke="#c8c8c8" stroke-width="0.8"/><path d="M611.6 561.5H714.8" stroke="#c8c8c8" stroke-width="0.8"/><path d="M611.6 568.7H714.8" stroke="#c8c8c8" stroke-width="0.8"/><path d="M622.7 543.2H714.8" stroke="#999" stroke-width="1"/><path d="M622.7 498.7V543" stroke="#999" stroke-width="0.8" stroke-dasharray="1.2 1.2"/><path d="M775 510.4H848" stroke="#d0d0d0" stroke-width="1"/><path d="M775 512.8H848" stroke="#d0d0d0" stroke-width="1"/><path d="M775 515.6H848" stroke="#d0d0d0" stroke-width="1"/><path d="M775 519.2H848" stroke="#d0d0d0" stroke-width="1"/><path d="M775 533.4H848" stroke="#d0d0d0" stroke-width="1"/><path d="M775 537.7H848" stroke="#d0d0d0" stroke-width="1"/><path d="M775 540.6H848" stroke="#d0d0d0" stroke-width="1"/><path d="M775 547H848" stroke="#d0d0d0" stroke-width="1"/><path d="M775 551.2H848" stroke="#d0d0d0" stroke-width="1"/><path d="M775 564.8H848" stroke="#d0d0d0" stroke-width="1"/><rect x="783.5" y="515" width="9" height="33" fill="none" stroke="#bbb" stroke-width="0.8"/><path d="M783.5 494V525" stroke="#aaa" stroke-width="0.8" stroke-dasharray="1.2 1.2"/><polygon points="10,43.5 150.6,3.8 150.6,43.5" fill="#44599f"/><path d="M48.5 15.6 L55 15.5 L65 15.0 L75 14.0 L82 12.8 L85.5 11.2 L88.2 8.3 L94.4 5.8 L101.4 5.1 L108.3 5.5 L113.9 7.2 L121 7.0 L127.9 7.3 L132.8 8.3 L135 8.4 L137 9.7 L139.7 11.8 L140.8 14.3 L140.8 16 L138.3 18.1 L134.9 17.2 L130.7 17 L127.9 18.1 L125.1 20.9 L122.3 24.3 L118.2 26.4 L116.1 27.8 L114.6 29.5 L114.6 31.2 L113.6 33.5 L115.3 36.1 L117.4 39.6 L118 42.5 L116.6 42.6 L114.6 41 L110.4 36.1 L107.5 34 L105.6 32.8 L102 33.4 L97.9 32.8 L94.1 31.8 L94.6 30.2 L96.6 28.5 L96.4 25.5 L95.5 23.2 L93.5 21.2 L90 19.2 L87 17.6 L80 18.6 L72 19.8 L62 20.8 L54 21.0 L49.5 20.0 L48.2 17.8 Z" fill="#fff" stroke="#fff" stroke-width="0.4" stroke-linejoin="round"/><ellipse cx="101.4" cy="30.7" rx="2.8" ry="0.9" fill="#44599f"/><clipPath id="chclip"><path d="M48.5 15.6 L55 15.5 L65 15.0 L75 14.0 L82 12.8 L85.5 11.2 L88.2 8.3 L94.4 5.8 L101.4 5.1 L108.3 5.5 L113.9 7.2 L121 7.0 L127.9 7.3 L132.8 8.3 L135 8.4 L137 9.7 L139.7 11.8 L140.8 14.3 L140.8 16 L138.3 18.1 L134.9 17.2 L130.7 17 L127.9 18.1 L125.1 20.9 L122.3 24.3 L118.2 26.4 L116.1 27.8 L114.6 29.5 L114.6 31.2 L113.6 33.5 L115.3 36.1 L117.4 39.6 L118 42.5 L116.6 42.6 L114.6 41 L110.4 36.1 L107.5 34 L105.6 32.8 L102 33.4 L97.9 32.8 L94.1 31.8 L94.6 30.2 L96.6 28.5 L96.4 25.5 L95.5 23.2 L93.5 21.2 L90 19.2 L87 17.6 L80 18.6 L72 19.8 L62 20.8 L54 21.0 L49.5 20.0 L48.2 17.8 Z"/></clipPath><g fill="#2e3e9c" clip-path="url(#chclip)"><circle cx="103.0" cy="6.1" r="0.60"/><circle cx="87.5" cy="11.2" r="0.51"/><circle cx="87.1" cy="11.5" r="0.41"/><circle cx="110.2" cy="6.7" r="0.43"/><circle cx="109.7" cy="8.9" r="0.44"/><circle cx="96.0" cy="8.0" r="0.68"/><circle cx="119.4" cy="8.7" r="0.69"/><circle cx="86.8" cy="12.9" r="0.49"/><circle cx="90.9" cy="8.0" r="0.49"/><circle cx="133.2" cy="9.3" r="0.57"/><circle cx="123.7" cy="8.7" r="0.56"/><circle cx="87.2" cy="10.0" r="0.46"/><circle cx="126.5" cy="9.0" r="0.49"/><circle cx="120.0" cy="8.8" r="0.49"/><circle cx="132.5" cy="10.8" r="0.47"/><circle cx="119.2" cy="9.1" r="0.66"/><circle cx="129.3" cy="8.9" r="0.69"/><circle cx="89.3" cy="9.5" r="0.63"/><circle cx="91.4" cy="8.9" r="0.41"/><circle cx="125.7" cy="10.0" r="0.57"/><circle cx="134.5" cy="9.7" r="0.61"/><circle cx="120.6" cy="9.2" r="0.54"/><circle cx="133.7" cy="11.7" r="0.54"/><circle cx="125.4" cy="7.8" r="0.61"/><circle cx="124.3" cy="10.6" r="0.65"/><circle cx="100.3" cy="6.8" r="0.60"/><circle cx="86.1" cy="12.4" r="0.45"/><circle cx="89.3" cy="8.5" r="0.63"/><circle cx="90.0" cy="8.7" r="0.52"/><circle cx="134.4" cy="9.0" r="0.53"/><circle cx="117.4" cy="10.2" r="0.65"/><circle cx="134.2" cy="9.6" r="0.52"/><circle cx="105.5" cy="8.5" r="0.69"/><circle cx="91.4" cy="8.0" r="0.47"/><circle cx="96.7" cy="7.5" r="0.58"/><circle cx="98.8" cy="5.8" r="0.53"/><circle cx="106.2" cy="7.5" r="0.69"/><circle cx="127.2" cy="9.3" r="0.59"/><circle cx="126.3" cy="7.8" r="0.67"/><circle cx="131.8" cy="11.2" r="0.64"/><circle cx="107.8" cy="7.1" r="0.43"/><circle cx="123.4" cy="7.7" r="0.42"/><circle cx="95.0" cy="6.6" r="0.50"/><circle cx="86.9" cy="10.1" r="0.45"/><circle cx="88.3" cy="9.8" r="0.41"/><circle cx="134.4" cy="10.7" r="0.44"/><circle cx="98.1" cy="6.9" r="0.51"/><circle cx="89.6" cy="10.8" r="0.70"/><circle cx="112.0" cy="8.5" r="0.43"/><circle cx="88.3" cy="9.7" r="0.48"/><circle cx="133.4" cy="9.2" r="0.41"/><circle cx="136.0" cy="11.1" r="0.44"/><circle cx="117.0" cy="7.6" r="0.56"/><circle cx="136.6" cy="12.5" r="0.61"/><circle cx="98.7" cy="6.9" r="0.45"/><circle cx="131.4" cy="10.1" r="0.63"/><circle cx="103.4" cy="6.3" r="0.64"/><circle cx="136.7" cy="12.5" r="0.64"/><circle cx="133.2" cy="11.0" r="0.47"/><circle cx="115.2" cy="8.7" r="0.41"/><circle cx="86.3" cy="11.7" r="0.48"/><circle cx="127.4" cy="10.6" r="0.53"/><circle cx="135.7" cy="12.3" r="0.69"/><circle cx="105.9" cy="6.4" r="0.47"/><circle cx="94.2" cy="6.9" r="0.59"/><circle cx="135.0" cy="11.4" r="0.54"/><circle cx="124.7" cy="10.0" r="0.43"/><circle cx="125.2" cy="10.4" r="0.63"/><circle cx="130.4" cy="9.7" r="0.45"/><circle cx="132.3" cy="9.6" r="0.64"/><circle cx="136.4" cy="11.0" r="0.52"/><circle cx="135.9" cy="11.7" r="0.45"/><circle cx="89.9" cy="8.5" r="0.67"/><circle cx="132.9" cy="9.2" r="0.65"/><circle cx="136.6" cy="11.9" r="0.51"/><circle cx="117.4" cy="7.9" r="0.40"/><circle cx="136.4" cy="11.7" r="0.56"/><circle cx="135.7" cy="10.6" r="0.66"/><circle cx="133.4" cy="9.4" r="0.48"/><circle cx="100.9" cy="6.3" r="0.58"/><circle cx="98.6" cy="7.1" r="0.44"/><circle cx="135.2" cy="10.0" r="0.54"/><circle cx="119.8" cy="10.2" r="0.53"/><circle cx="135.4" cy="10.6" r="0.56"/><circle cx="115.6" cy="7.6" r="0.53"/><circle cx="93.4" cy="6.6" r="0.64"/><circle cx="92.7" cy="8.4" r="0.62"/><circle cx="117.9" cy="8.5" r="0.56"/><circle cx="117.8" cy="9.9" r="0.43"/><circle cx="118.2" cy="8.2" r="0.48"/><circle cx="125.1" cy="13.6" r="0.49"/><circle cx="124.5" cy="18.0" r="0.46"/><circle cx="117.4" cy="13.6" r="0.48"/><circle cx="121.3" cy="13.0" r="0.48"/><circle cx="110.9" cy="18.4" r="0.52"/><circle cx="130.1" cy="18.4" r="0.41"/><circle cx="114.9" cy="18.4" r="0.56"/><circle cx="94.6" cy="9.3" r="0.46"/><circle cx="91.5" cy="10.6" r="0.37"/><circle cx="120.1" cy="16.6" r="0.57"/><circle cx="95.4" cy="15.9" r="0.52"/><circle cx="94.9" cy="17.7" r="0.59"/><circle cx="98.5" cy="18.5" r="0.45"/><circle cx="111.4" cy="18.9" r="0.56"/><circle cx="95.8" cy="12.7" r="0.48"/><circle cx="104.3" cy="10.2" r="0.43"/><circle cx="122.7" cy="8.2" r="0.49"/><circle cx="109.1" cy="8.2" r="0.43"/><circle cx="117.9" cy="13.6" r="0.37"/><circle cx="135.3" cy="16.7" r="0.59"/><circle cx="93.0" cy="10.9" r="0.36"/><circle cx="125.4" cy="11.0" r="0.38"/><circle cx="108.3" cy="18.0" r="0.55"/><circle cx="100.4" cy="9.6" r="0.58"/><circle cx="115.4" cy="15.7" r="0.37"/><circle cx="90.8" cy="15.6" r="0.46"/><circle cx="91.5" cy="18.3" r="0.51"/><circle cx="126.5" cy="8.9" r="0.56"/><circle cx="91.2" cy="17.5" r="0.46"/><circle cx="104.3" cy="14.1" r="0.58"/><circle cx="100.9" cy="9.4" r="0.48"/><circle cx="99.4" cy="9.2" r="0.39"/><circle cx="90.4" cy="10.2" r="0.43"/><circle cx="102.6" cy="16.4" r="0.42"/><circle cx="112.0" cy="10.0" r="0.44"/><circle cx="88.9" cy="10.8" r="0.35"/><circle cx="123.2" cy="14.1" r="0.40"/><circle cx="110.8" cy="18.3" r="0.38"/><circle cx="127.3" cy="12.8" r="0.47"/><circle cx="128.1" cy="12.3" r="0.48"/><circle cx="121.0" cy="18.8" r="0.44"/><circle cx="127.9" cy="15.8" r="0.51"/><circle cx="107.4" cy="11.8" r="0.36"/><circle cx="94.2" cy="8.8" r="0.54"/><circle cx="100.3" cy="9.8" r="0.37"/><circle cx="128.4" cy="17.6" r="0.52"/><circle cx="101.5" cy="10.7" r="0.42"/><circle cx="110.1" cy="9.7" r="0.46"/><circle cx="100.6" cy="18.6" r="0.59"/><circle cx="114.3" cy="10.7" r="0.59"/><circle cx="102.9" cy="11.9" r="0.35"/><circle cx="106.3" cy="13.2" r="0.48"/><circle cx="97.6" cy="13.6" r="0.35"/><circle cx="100.7" cy="9.0" r="0.45"/><circle cx="90.0" cy="8.2" r="0.43"/><circle cx="99.2" cy="14.4" r="0.48"/><circle cx="124.0" cy="15.2" r="0.53"/><circle cx="130.2" cy="12.3" r="0.43"/><circle cx="135.3" cy="9.6" r="0.53"/><circle cx="118.9" cy="8.5" r="0.56"/><circle cx="130.8" cy="14.9" r="0.53"/><circle cx="127.0" cy="9.5" r="0.48"/><circle cx="112.2" cy="17.2" r="0.55"/><circle cx="127.7" cy="14.4" r="0.57"/><circle cx="120.8" cy="15.6" r="0.41"/><circle cx="89.5" cy="9.5" r="0.44"/><circle cx="93.0" cy="17.2" r="0.49"/><circle cx="118.1" cy="14.9" r="0.52"/><circle cx="111.5" cy="8.0" r="0.55"/><circle cx="123.9" cy="13.5" r="0.48"/><circle cx="119.6" cy="8.7" r="0.53"/><circle cx="100.1" cy="8.8" r="0.42"/><circle cx="123.0" cy="10.3" r="0.53"/><circle cx="134.8" cy="13.4" r="0.45"/><circle cx="111.0" cy="15.5" r="0.54"/><circle cx="117.6" cy="15.1" r="0.37"/><circle cx="95.1" cy="10.8" r="0.54"/><circle cx="102.6" cy="14.2" r="0.35"/><circle cx="90.9" cy="11.0" r="0.52"/><circle cx="121.2" cy="15.4" r="0.42"/><circle cx="112.8" cy="13.1" r="0.47"/><circle cx="93.7" cy="17.8" r="0.40"/><circle cx="135.0" cy="18.3" r="0.35"/><circle cx="110.0" cy="17.0" r="0.59"/><circle cx="109.6" cy="11.0" r="0.40"/><circle cx="133.4" cy="10.3" r="0.50"/><circle cx="94.8" cy="13.8" r="0.59"/><circle cx="94.4" cy="17.0" r="0.48"/><circle cx="130.6" cy="15.7" r="0.41"/><circle cx="131.1" cy="13.3" r="0.36"/><circle cx="98.1" cy="23.9" r="0.39"/><circle cx="104.6" cy="19.7" r="0.37"/><circle cx="105.0" cy="28.1" r="0.30"/><circle cx="114.5" cy="28.1" r="0.32"/><circle cx="118.4" cy="26.6" r="0.48"/><circle cx="104.4" cy="22.5" r="0.38"/><circle cx="120.0" cy="25.1" r="0.37"/><circle cx="107.4" cy="21.3" r="0.31"/><circle cx="100.2" cy="28.0" r="0.36"/><circle cx="118.6" cy="21.0" r="0.35"/></g><path d="M50.6 10 l1.0 12 l1.6 0 l-1.0 -12 z M55.6 10 l1.0 12 l1.6 0 l-1.0 -12 z M60.6 10 l1.0 12 l1.6 0 l-1.0 -12 z M65.3 10 l1.0 12 l1.6 0 l-1.0 -12 z M70.3 10 l1.0 12 l1.6 0 l-1.0 -12 z M75.0 10 l1.0 12 l1.6 0 l-1.0 -12 z M79.2 10 l1.0 12 l1.6 0 l-1.0 -12 z M83.4 10 l1.0 12 l1.6 0 l-1.0 -12 z" fill="#2e3e9c" clip-path="url(#chclip)" opacity="0.9"/><path d="M48.5 15.6 L55 15.5 L65 15.0 L75 14.0 L82 12.8 L85.5 11.2 L88.2 8.3 L94.4 5.8 L101.4 5.1 L108.3 5.5 L113.9 7.2 L121 7.0 L127.9 7.3 L132.8 8.3 L135 8.4 L137 9.7" fill="none" stroke="#2e3e9c" stroke-width="0.5" stroke-dasharray="0.8 0.9" opacity="0.8"/><text transform="translate(5.6 64.0) scale(1.375 1)" style="font-family:'Liberation Sans',Arial,sans-serif" font-size="13.2" fill="#22398f" stroke="#22398f" stroke-width="0.55" letter-spacing="1.35">CHEETAHTHAI</text><text x="151" y="53.5" style="font-family:'Liberation Sans',Arial,sans-serif" font-size="5.5" fill="#2e3e9c">®</text></svg>
</body></html>
